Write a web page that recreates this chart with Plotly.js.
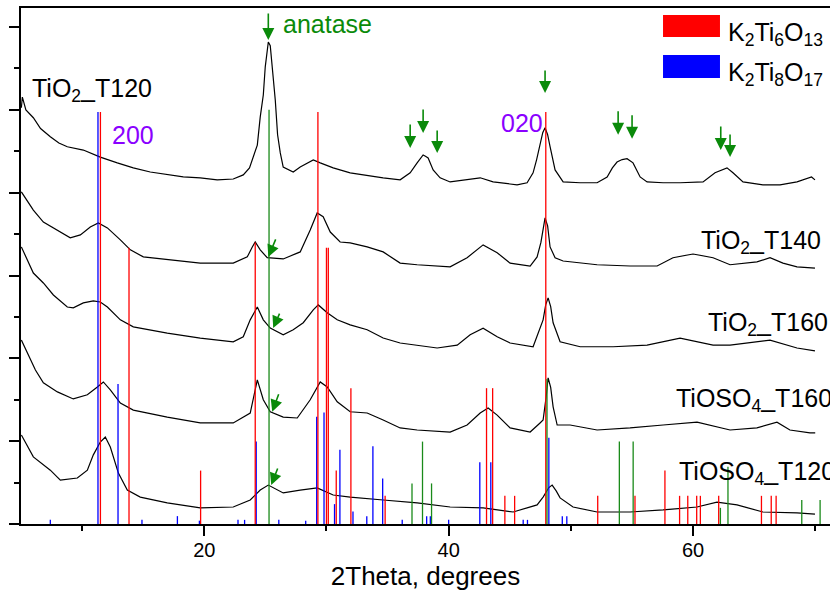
<!DOCTYPE html>
<html>
<head>
<meta charset="utf-8">
<script src="https://cdn.plot.ly/plotly-3.0.1.min.js"></script>
<style>html,body{margin:0;padding:0;background:#fff;}#chart{width:830px;height:594px;}</style>
</head>
<body>
<div id="chart"></div>
<script>
// ---- XRD patterns (2Theta, offset intensity in arbitrary units) ----
const t120X = [5.03,5.11,5.40,6.01,6.60,7.40,8.10,8.79,10.10,11.49,12.88,14.19,15.58,16.97,18.28,19.67,21.06,22.37,23.19,23.70,24.01,24.34,24.58,24.83,24.99,25.24,25.40,25.56,25.81,26.00,26.22,26.46,27.28,27.85,28.92,29.49,30.55,31.94,33.33,34.64,36.03,36.85,37.42,37.70,37.91,38.10,38.32,38.73,39.30,40.12,41.51,42.58,43.64,45.60,46.42,46.91,47.20,47.48,47.70,47.89,48.10,48.30,48.71,49.37,50.76,52.15,52.97,53.40,53.78,54.20,54.60,55.09,55.40,55.67,56.24,57.55,58.94,60.82,61.80,62.30,62.78,63.27,64.09,65.72,67.12,68.51,69.70,69.98];
const t120Y = [10.05,10.31,10.00,9.81,9.55,9.35,9.20,9.11,9.03,8.86,8.72,8.60,8.50,8.43,8.38,8.36,8.31,8.33,8.43,8.60,8.86,9.15,9.83,10.36,11.04,11.64,11.55,11.09,10.24,9.40,8.96,8.62,8.50,8.62,8.79,8.72,8.60,8.48,8.41,8.36,8.31,8.48,8.72,8.82,8.91,8.88,8.84,8.55,8.36,8.26,8.31,8.36,8.26,8.19,8.24,8.48,8.80,9.20,9.45,9.57,9.40,9.11,8.55,8.26,8.24,8.24,8.38,8.60,8.74,8.80,8.82,8.72,8.55,8.38,8.26,8.24,8.24,8.26,8.48,8.55,8.60,8.48,8.26,8.19,8.19,8.26,8.38,8.31];

const t140X = [5.03,6.01,6.83,7.98,9.03,9.86,10.67,11.33,12.07,13.13,13.95,15.01,16.97,19.67,22.37,23.52,23.93,24.17,24.58,25.15,26.46,27.85,28.67,29.24,29.73,30.31,31.12,31.94,33.33,34.64,36.03,37.42,40.12,41.51,42.82,43.97,45.03,46.67,47.24,47.55,47.89,48.10,48.30,48.71,49.37,52.15,54.85,57.06,58.36,60.00,61.64,63.03,65.23,66.30,67.36,68.51,69.98];
const t140Y = [8.02,7.58,7.29,7.10,6.91,6.98,7.17,7.27,7.15,6.86,6.62,6.45,6.38,6.30,6.30,6.45,6.69,6.81,6.62,6.43,6.40,6.57,7.10,7.51,7.42,7.05,6.81,6.79,6.69,6.57,6.30,6.26,6.21,6.43,6.74,6.55,6.30,6.23,6.45,6.80,7.39,7.20,6.69,6.43,6.35,6.26,6.23,6.23,6.43,6.52,6.43,6.26,6.33,6.43,6.30,6.21,6.18];

const t160X = [5.03,6.01,6.83,7.65,8.79,9.28,10.10,10.92,11.49,12.07,13.13,14.19,16.97,19.67,22.37,23.19,23.76,24.34,24.83,25.40,26.46,27.28,28.10,28.92,29.33,30.06,30.88,31.94,33.33,34.64,36.03,37.42,39.06,40.70,41.76,42.82,43.97,45.03,46.91,47.73,47.95,48.14,48.35,48.55,49.12,50.76,53.46,56.24,58.94,61.64,63.03,66.30,68.51,69.98];
const t160Y = [6.69,6.06,5.82,5.53,5.24,5.22,5.34,5.39,5.36,5.24,4.93,4.76,4.61,4.49,4.40,4.52,4.93,5.24,4.93,4.73,4.57,4.69,4.86,5.17,5.29,5.10,4.93,4.81,4.69,4.49,4.37,4.32,4.25,4.32,4.57,4.73,4.52,4.37,4.28,4.93,5.30,5.46,5.25,4.86,4.40,4.28,4.28,4.32,4.49,4.32,4.32,4.44,4.25,4.18];

const so160X = [5.03,6.18,6.83,7.98,9.28,10.43,11.25,11.74,12.31,13.13,14.19,16.97,19.67,22.37,23.76,24.10,24.34,24.83,25.40,26.46,27.61,28.67,29.49,30.06,30.88,31.94,33.33,34.64,36.03,37.42,40.12,41.51,42.58,43.23,43.97,45.03,46.67,47.48,47.73,47.98,48.14,48.35,48.55,48.88,49.94,52.15,54.85,57.55,60.33,63.03,65.23,66.87,67.93,69.57,70.00];
const so160Y = [4.44,3.72,3.41,3.19,3.02,3.12,3.31,3.43,3.24,2.92,2.75,2.58,2.44,2.44,2.68,3.20,3.48,3.00,2.71,2.58,2.56,3.00,3.43,3.31,2.95,2.71,2.68,2.51,2.32,2.27,2.22,2.39,2.68,2.80,2.63,2.32,2.22,2.44,2.51,3.07,3.53,3.30,2.83,2.39,2.39,2.27,2.32,2.39,2.46,2.27,2.32,2.46,2.27,2.20,2.20];

const so120X = [5.03,6.01,7.40,8.22,9.61,10.43,10.92,11.49,11.90,12.31,12.97,13.70,14.76,16.97,19.67,22.37,23.76,24.58,25.24,25.97,26.46,27.85,29.24,30.55,31.94,34.64,37.42,40.12,42.82,45.28,47.24,47.73,48.20,48.47,48.80,49.12,50.18,52.15,54.85,57.55,60.33,61.96,63.60,65.72,68.51,69.98];
const so120Y = [2.15,1.62,1.30,1.06,1.11,1.30,1.67,1.98,2.10,1.86,1.23,0.82,0.65,0.51,0.39,0.41,0.58,0.82,0.94,0.82,0.75,0.82,0.87,0.70,0.65,0.58,0.51,0.41,0.39,0.29,0.46,0.65,0.88,0.94,0.80,0.63,0.41,0.29,0.29,0.34,0.41,0.53,0.46,0.29,0.27,0.24];

// ---- reference patterns (stick positions, relative intensity / 10) ----
const k6Pos = [11.50,13.84,19.70,24.17,29.30,30.00,30.15,30.80,32.00,34.80,43.10,43.60,44.60,45.40,47.95,52.20,55.25,57.70,58.90,59.57,60.30,60.60,62.10,65.60,66.40,66.80];
const k6Int = [9.95,6.67,1.29,6.80,9.95,6.67,6.67,1.29,3.28,0.68,3.28,3.28,0.68,0.68,9.95,0.68,0.68,1.29,0.68,0.68,0.68,0.68,0.68,0.68,0.68,0.68];
const k8Pos = [7.40,11.30,12.94,14.90,17.80,19.60,22.76,23.30,24.25,26.10,28.30,29.20,29.80,30.66,31.10,32.17,33.30,33.80,34.60,36.20,38.20,38.50,40.00,42.55,43.45,46.10,46.45,48.20,49.30,49.67];
const k8Int = [0.10,9.95,3.38,0.10,0.19,0.08,0.10,0.10,1.99,0.10,0.08,2.59,2.69,0.48,1.79,0.30,0.19,1.88,1.10,0.10,0.19,0.19,0.10,1.49,1.49,0.10,0.10,2.08,0.19,0.19];
const anPos = [25.30,37.00,37.86,38.60,48.05,53.97,55.10,62.24,62.86,68.90,70.40];
const anInt = [10.0,0.98,1.99,0.98,3.50,1.99,1.99,0.39,1.38,0.58,0.58];

// ---- labels ----
const curveLabels = ['TiO<sub>2</sub>_T120','TiO<sub>2</sub>_T140','TiO<sub>2</sub>_T160','TiOSO<sub>4</sub>_T160','TiOSO<sub>4</sub>_T120'];
const legendLabels = ['K<sub>2</sub>Ti<sub>6</sub>O<sub>13</sub>','K<sub>2</sub>Ti<sub>8</sub>O<sub>17</sub>'];
const xTitle = '2Theta, degrees';

function sticks(pos, inten) {
  const xs = [], ys = [];
  for (let i = 0; i < pos.length; i++) { xs.push(pos[i], pos[i], null); ys.push(0, inten[i], null); }
  return {xs, ys};
}

const FONT = 'Arial, "Liberation Sans", sans-serif';
const GREEN = '#0a8a0a';
const PURPLE = '#8a00ff';
const curves = [[t120X,t120Y],[t140X,t140Y],[t160X,t160Y],[so160X,so160Y],[so120X,so120Y]];
const traces = curves.map(c => ({x: c[0], y: c[1], type: 'scatter', mode: 'lines', line: {color: '#000', width: 1.2}, showlegend: false, hoverinfo: 'skip'}));
const s6 = sticks(k6Pos, k6Int), s8 = sticks(k8Pos, k8Int), sa = sticks(anPos, anInt);
traces.push({x: s8.xs, y: s8.ys, type: 'scatter', mode: 'lines', line: {color: '#0000ff', width: 1.3}, showlegend: false, hoverinfo: 'skip'});
traces.push({x: s6.xs, y: s6.ys, type: 'scatter', mode: 'lines', line: {color: '#ff0000', width: 1.3}, showlegend: false, hoverinfo: 'skip'});
traces.push({x: sa.xs, y: sa.ys, type: 'scatter', mode: 'lines', line: {color: '#1a8a1a', width: 1.3}, showlegend: false, hoverinfo: 'skip'});

function txt(text, x, y, color, ref, size) {
  return {text: text, x: x, y: y, xref: ref || 'x', yref: ref || 'y', xanchor: 'left', yanchor: 'middle', showarrow: false, font: {family: FONT, size: size || 25, color: color || '#000'}};
}
function arrow(x, y, ax, ay) {
  return {text: '', x: x, y: y, xref: 'x', yref: 'y', ax: ax, ay: ay, showarrow: true, arrowhead: 2, arrowsize: 1.5, arrowwidth: 1.6, arrowcolor: GREEN, standoff: 0};
}
const annotations = [
  txt(curveLabels[0], 5.70, 10.48),
  txt(curveLabels[1], 60.50, 6.80),
  txt(curveLabels[2], 61.10, 4.82),
  txt(curveLabels[3], 58.45, 2.99),
  txt(curveLabels[4], 58.70, 1.22),
  txt('200', 12.25, 9.40, PURPLE),
  txt('020', 44.15, 9.69, PURPLE),
  txt('anatase', 26.25, 12.08, GREEN),
  txt(legendLabels[0], 0.872, 0.950, '#000', 'paper'),
  txt(legendLabels[1], 0.872, 0.872, '#000', 'paper'),
  arrow(25.24, 11.69, 0, -28),
  arrow(36.85, 9.08, 0, -25),
  arrow(37.91, 9.44, 0, -25),
  arrow(39.06, 8.96, 0, -24),
  arrow(47.89, 10.41, 0, -24),
  arrow(53.87, 9.40, 0, -25),
  arrow(55.01, 9.30, 0, -25),
  arrow(62.27, 9.03, 0, -25),
  arrow(63.03, 8.86, 0, -24),
  arrow(25.24, 6.45, 8, -19),
  arrow(25.64, 4.73, 7, -16),
  arrow(25.56, 2.71, 7, -19),
  arrow(25.48, 0.94, 7, -18)
];

const shapes = [
  {type: 'rect', xref: 'paper', yref: 'paper', x0: 0.7936, x1: 0.8640, y0: 0.9438, y1: 0.9864, fillcolor: '#ff0000', line: {width: 0}},
  {type: 'rect', xref: 'paper', yref: 'paper', x0: 0.7936, x1: 0.8640, y0: 0.8643, y1: 0.9089, fillcolor: '#0000ff', line: {width: 0}}
];

const layout = {
  width: 830, height: 594,
  margin: {l: 21, r: 0, t: 8, b: 70},
  paper_bgcolor: '#fff', plot_bgcolor: '#fff',
  showlegend: false,
  font: {family: FONT, color: '#000'},
  xaxis: {
    range: [5.0, 71.21], showgrid: false, zeroline: false,
    showline: true, linecolor: '#000', linewidth: 2, mirror: true,
    ticks: 'outside', ticklen: 10, tickwidth: 2, tickcolor: '#000',
    tick0: 0, dtick: 20, ticklabelstandoff: -3,
    minor: {ticks: 'outside', ticklen: 5, tickwidth: 2, tickcolor: '#000', dtick: 10, showgrid: false},
    tickfont: {family: FONT, size: 20, color: '#000'},
    title: {text: xTitle, font: {family: FONT, size: 26, color: '#000'}, standoff: 3}
  },
  yaxis: {
    range: [0, 12.46], showgrid: false, zeroline: false,
    showline: true, linecolor: '#000', linewidth: 2,
    ticks: 'outside', ticklen: 10, tickwidth: 2, tickcolor: '#000',
    tick0: 0, dtick: 2, showticklabels: false,
    minor: {ticks: 'outside', ticklen: 5, tickwidth: 2, tickcolor: '#000', dtick: 1, showgrid: false}
  },
  annotations: annotations,
  shapes: shapes
};

Plotly.newPlot('chart', traces, layout, {displayModeBar: false, staticPlot: true});
</script>
</body>
</html>
